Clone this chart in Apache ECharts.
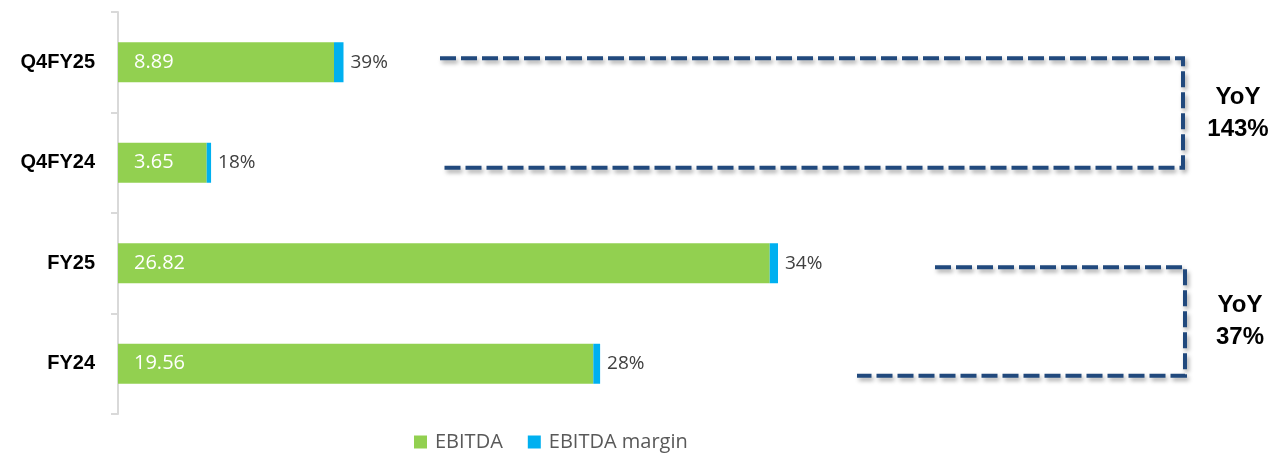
<!DOCTYPE html>
<html>
<head>
<meta charset="utf-8">
<script src="https://cdn.jsdelivr.net/npm/echarts@6/dist/echarts.min.js"></script>
<style>
  html, body { margin: 0; padding: 0; background: #fff; }
  #chart { width: 1278px; height: 454px; }
</style>
</head>
<body>
<div id="chart"></div>
<script>
const categories = ['Q4FY25', 'Q4FY24', 'FY25', 'FY24'];
const ebitda = [8.89, 3.65, 26.82, 19.56];
const ebitdaMargin = [0.39, 0.18, 0.34, 0.28];
const yoyNotes = [
  { from: 'Q4FY25', to: 'Q4FY24', text: 'YoY\n143%' },
  { from: 'FY25', to: 'FY24', text: 'YoY\n37%' }
];

const green = '#92d050';
const blue = '#00b0f0';
const dashBlue = '#21497d';

const chart = echarts.init(document.getElementById('chart'));

const options = {
  animation: false,
  grid: { left: 118, right: 188, top: 12, bottom: 40 },
  legend: {
    left: 409,
    top: 427,
    itemWidth: 13,
    itemHeight: 13,
    itemGap: 25,
    icon: 'rect',
    textStyle: { fontFamily: 'Open Sans', fontSize: 20, color: '#595959', padding: [0, 0, 0, 3] },
    data: ['EBITDA', 'EBITDA margin']
  },
  xAxis: {
    type: 'value',
    min: 0,
    max: 40,
    show: false
  },
  yAxis: {
    type: 'category',
    inverse: true,
    data: categories,
    axisLine: { lineStyle: { color: '#d9d9d9', width: 2 } },
    axisTick: { show: true, length: 7, lineStyle: { color: '#d9d9d9', width: 2 } },
    axisLabel: {
      margin: 23,
      color: '#000',
      fontFamily: 'Liberation Sans',
      fontWeight: 'bold',
      fontSize: 20
    }
  },
  series: [
    {
      name: 'EBITDA',
      type: 'bar',
      stack: 'total',
      barWidth: 40,
      itemStyle: { color: green },
      label: {
        show: true,
        position: 'insideLeft',
        distance: 16,
        color: '#fff',
        fontFamily: 'Open Sans',
        fontSize: 20,
        formatter: (p) => p.value.toFixed(2)
      },
      data: ebitda
    },
    {
      name: 'EBITDA margin',
      type: 'bar',
      stack: 'total',
      barWidth: 40,
      itemStyle: { color: blue },
      label: {
        show: true,
        position: 'right',
        distance: 7,
        color: '#404040',
        fontFamily: 'Open Sans',
        fontSize: 19,
        formatter: (p) => Math.round(p.value * 100) + '%'
      },
      data: ebitdaMargin
    }
  ]
};

chart.setOption(options);

// dashed YoY brackets, placed from the category axis positions
const yOf = (c) => chart.convertToPixel({ yAxisIndex: 0 }, c);
const lineStyle = {
  stroke: dashBlue,
  lineWidth: 4,
  lineDash: [16, 5],
  shadowBlur: 4,
  shadowOffsetX: 2,
  shadowOffsetY: 3,
  shadowColor: 'rgba(0,0,0,0.35)'
};
const bracketX = [
  { x1: 440, x2: 440, xr: 1183 },
  { x1: 935, x2: 857, xr: 1185 }
];
const topOff = [-4, 4];
const botOff = [5, 12];
const graphics = [];
yoyNotes.forEach((n, i) => {
  const b = bracketX[i];
  const yTop = yOf(n.from) + topOff[i];
  const yBot = yOf(n.to) + botOff[i];
  graphics.push({
    type: 'polyline',
    shape: { points: [[b.x1, yTop], [b.xr, yTop], [b.xr, yBot], [b.x2, yBot]] },
    style: Object.assign({ fill: null }, lineStyle)
  });
  graphics.push({
    type: 'text',
    x: b.xr + 55,
    y: (yTop + yBot) / 2,
    style: {
      text: n.text,
      fill: '#000',
      font: 'bold 24px "Liberation Sans"',
      lineHeight: 32,
      align: 'center',
      verticalAlign: 'middle'
    }
  });
});
chart.setOption({ graphic: graphics });
</script>
</body>
</html>
